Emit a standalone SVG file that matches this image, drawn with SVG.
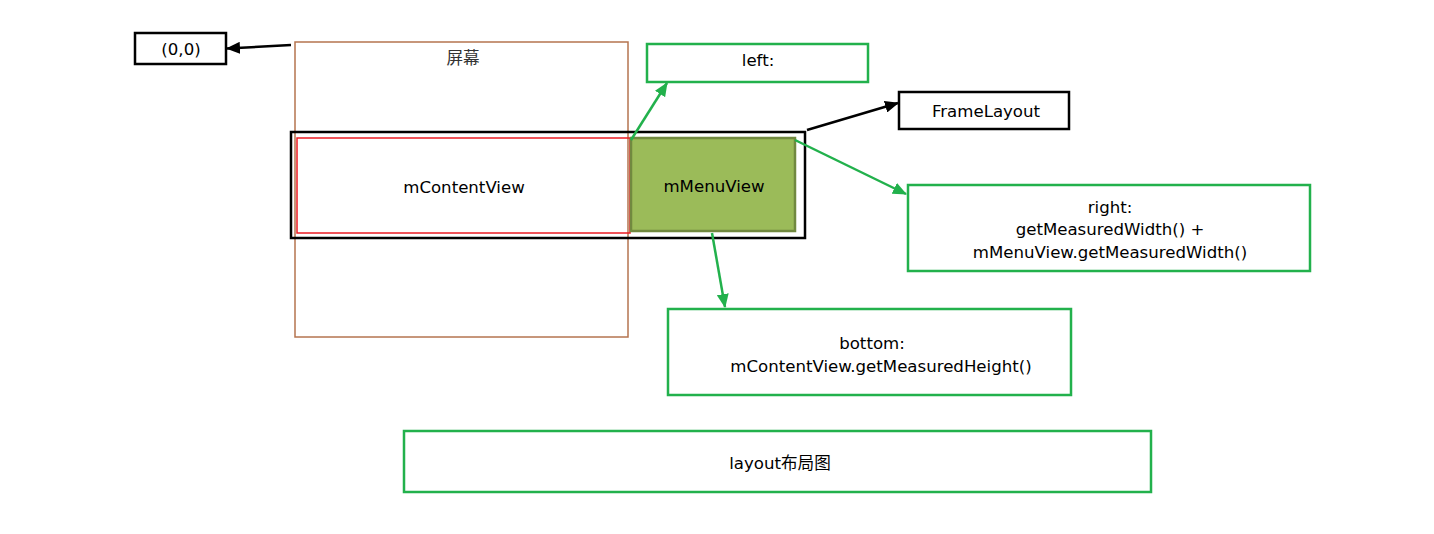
<svg xmlns="http://www.w3.org/2000/svg" width="1434" height="534" viewBox="0 0 1434 534">
<style>
text{font-family:"DejaVu Sans","Noto Sans CJK SC",sans-serif;font-size:16.6px;fill:#000;text-anchor:middle;dominant-baseline:central}
.blk{fill:#fff;stroke:#000;stroke-width:2.5}
.grn{fill:#fff;stroke:#22b14c;stroke-width:2.5}
.cg{stroke:#22b14c;stroke-width:2.5;fill:none}
.cb{stroke:#000;stroke-width:2.5;fill:none}
</style>
<defs>
<marker id="ag" markerWidth="14" markerHeight="12" refX="13" refY="6" orient="auto" markerUnits="userSpaceOnUse" viewBox="0 0 14 12"><path d="M0,0 L14,6 L0,12 Z" fill="#22b14c"/></marker>
<marker id="ab" markerWidth="14" markerHeight="12" refX="13" refY="6" orient="auto" markerUnits="userSpaceOnUse" viewBox="0 0 14 12"><path d="M0,0 L14,6 L0,12 Z" fill="#000"/></marker>
</defs>
<g id="origin"><rect class="blk" x="135" y="33" width="91" height="31"/><text x="181" y="49">(0,0)</text></g>
<g id="screen"><rect x="295" y="42" width="333" height="295" fill="none" stroke="#b5744f" stroke-width="1.5"/><text x="463" y="58" style="fill:#333">屏幕</text></g>
<g id="framebox"><rect x="291" y="132" width="514" height="106" fill="none" stroke="#000" stroke-width="2.5"/></g>
<g id="content"><rect x="297" y="138" width="333" height="95" fill="none" stroke="#ed1c24" stroke-width="1.5"/><text x="464" y="187">mContentView</text></g>
<g id="menu"><rect x="631" y="138" width="164" height="93" fill="#9bbb59" stroke="#71893f" stroke-width="2.5"/><text x="714" y="186">mMenuView</text></g>
<g id="left"><rect class="grn" x="647" y="44" width="221" height="38"/><text x="758" y="60">left:</text></g>
<g id="framelayout"><rect class="blk" x="899" y="92" width="170" height="37"/><text x="986" y="111">FrameLayout</text></g>
<g id="right"><rect class="grn" x="908" y="185" width="402" height="86"/><text x="1110" y="207">right:</text><text x="1110" y="229">getMeasuredWidth() +</text><text x="1110" y="252">mMenuView.getMeasuredWidth()</text></g>
<g id="bottom"><rect class="grn" x="668" y="309" width="403" height="86"/><text x="872" y="343">bottom:</text><text x="881" y="366">mContentView.getMeasuredHeight()</text></g>
<g id="layout"><rect class="grn" x="404" y="431" width="747" height="61"/><text x="780" y="463">layout布局图</text></g>
<g id="connectors">
<line class="cb" x1="291" y1="45" x2="227" y2="48.5" marker-end="url(#ab)"/>
<line class="cg" x1="631" y1="140" x2="667" y2="83" marker-end="url(#ag)"/>
<line class="cb" x1="807" y1="130" x2="898" y2="103" marker-end="url(#ab)"/>
<line class="cg" x1="795" y1="140" x2="906" y2="194" marker-end="url(#ag)"/>
<line class="cg" x1="712" y1="233" x2="725" y2="307" marker-end="url(#ag)"/>
</g>
</svg>
